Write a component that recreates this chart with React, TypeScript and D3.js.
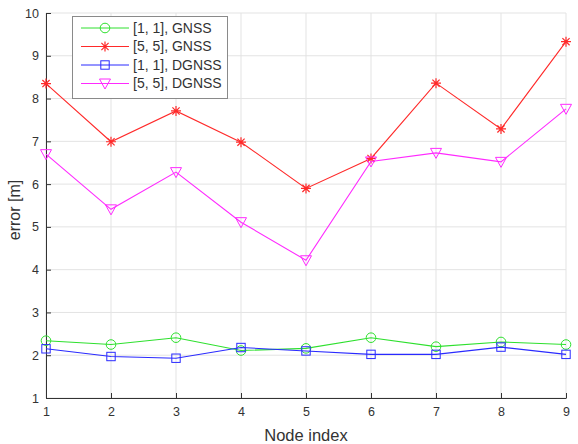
import React, { useRef, useEffect } from 'react';
import * as d3 from 'd3';

const nodes = [1, 2, 3, 4, 5, 6, 7, 8, 9];
const gnss11 = [2.34, 2.25, 2.41, 2.11, 2.16, 2.41, 2.2, 2.31, 2.25];
const gnss55 = [8.35, 6.99, 7.71, 6.98, 5.9, 6.6, 8.36, 7.29, 9.33];
const dgnss11 = [2.15, 1.97, 1.93, 2.18, 2.1, 2.02, 2.02, 2.19, 2.02];
const dgnss55 = [6.7, 5.41, 6.28, 5.11, 4.22, 6.53, 6.73, 6.52, 7.76];
const yTicks = [1, 2, 3, 4, 5, 6, 7, 8, 9, 10];

const seriesList = [
  { name: '[1, 1], GNSS', values: gnss11, color: '#2ee02e', marker: 'circle' },
  { name: '[5, 5], GNSS', values: gnss55, color: '#ff2a2a', marker: 'star' },
  { name: '[1, 1], DGNSS', values: dgnss11, color: '#2a2aff', marker: 'square' },
  { name: '[5, 5], DGNSS', values: dgnss55, color: '#ff2aff', marker: 'triangle' },
];

function drawMarker(g, kind, x, y, color) {
  if (kind === 'circle') {
    g.append('circle').attr('cx', x).attr('cy', y).attr('r', 4.8)
      .attr('fill', 'none').attr('stroke', color).attr('stroke-width', 1);
  } else if (kind === 'square') {
    g.append('rect').attr('x', x - 4.2).attr('y', y - 4.2).attr('width', 8.4).attr('height', 8.4)
      .attr('fill', 'none').attr('stroke', color).attr('stroke-width', 1);
  } else if (kind === 'triangle') {
    g.append('path').attr('d', `M${x - 5.5},${y - 4.5}L${x + 5.5},${y - 4.5}L${x},${y + 5.5}Z`)
      .attr('fill', 'none').attr('stroke', color).attr('stroke-width', 1);
  } else {
    const r = 5, d = r * 0.72;
    const p = `M${x - r},${y}L${x + r},${y}M${x},${y - r}L${x},${y + r}` +
      `M${x - d},${y - d}L${x + d},${y + d}M${x - d},${y + d}L${x + d},${y - d}`;
    g.append('path').attr('d', p).attr('stroke', color).attr('stroke-width', 1.2);
  }
}

export default function App() {
  const svgRef = useRef(null);

  useEffect(() => {
    const svg = d3.select(svgRef.current);
    svg.selectAll('*').remove();
    const left = 46, right = 566, top = 13, bottom = 398;

    const x = d3.scaleLinear().domain([1, 9]).range([left, right]);
    const y = d3.scaleLinear().domain([1, 10]).range([bottom, top]);
    const axisColor = '#333';
    const font = 'Liberation Sans, Arial, sans-serif';

    // grid
    const grid = svg.append('g').attr('stroke', '#e3e3e3').attr('stroke-width', 1);
    nodes.forEach(n => {
      grid.append('line').attr('x1', x(n)).attr('x2', x(n)).attr('y1', top).attr('y2', bottom);
    });
    yTicks.forEach(t => {
      grid.append('line').attr('x1', left).attr('x2', right).attr('y1', y(t)).attr('y2', y(t));
    });

    // axes with inward ticks
    const xAxis = svg.append('g').attr('transform', `translate(0,${bottom})`)
      .call(d3.axisBottom(x).tickValues(nodes).tickFormat(d3.format('d')).tickSizeInner(-5).tickSizeOuter(0).tickPadding(9));
    const yAxis = svg.append('g').attr('transform', `translate(${left},0)`)
      .call(d3.axisLeft(y).tickValues(yTicks).tickFormat(d3.format('d')).tickSizeInner(-5).tickSizeOuter(0).tickPadding(7));
    [xAxis, yAxis].forEach(a => {
      a.select('.domain').attr('stroke', axisColor);
      a.selectAll('.tick line').attr('stroke', axisColor);
      a.selectAll('.tick text').attr('fill', axisColor).attr('font-size', 12.5).attr('font-family', font);
    });

    // series
    const line = d3.line().x((_, i) => x(nodes[i])).y(v => y(v));
    seriesList.forEach(s => {
      svg.append('path').datum(s.values).attr('d', line)
        .attr('fill', 'none').attr('stroke', s.color).attr('stroke-width', 1.1);
      const mg = svg.append('g');
      s.values.forEach((v, i) => drawMarker(mg, s.marker, x(nodes[i]), y(v), s.color));
    });

    // axis labels
    svg.append('text').attr('x', 306).attr('y', 441).attr('text-anchor', 'middle')
      .attr('font-size', 16.5).attr('font-family', font).attr('fill', axisColor).text('Node index');
    svg.append('text').attr('transform', `translate(14,210) rotate(-90)`)
      .attr('text-anchor', 'middle').attr('dy', '0.35em')
      .attr('font-size', 16).attr('font-family', font).attr('fill', axisColor).text('error [m]');

    // legend
    const lg = svg.append('g');
    lg.append('rect').attr('x', 72.5).attr('y', 16.5).attr('width', 155).attr('height', 82)
      .attr('fill', '#fff').attr('stroke', '#8a8a8a').attr('stroke-width', 1);
    seriesList.forEach((s, i) => {
      const ly = 28 + i * 18.5;
      lg.append('line').attr('x1', 81).attr('x2', 129).attr('y1', ly).attr('y2', ly)
        .attr('stroke', s.color).attr('stroke-width', 1);
      drawMarker(lg, s.marker, 105, ly, s.color);
      lg.append('text').attr('x', 133).attr('y', ly).attr('dy', '0.35em')
        .attr('font-size', 14).attr('font-family', font).attr('fill', axisColor).text(s.name);
    });
  }, []);

  return (
    <svg ref={svgRef} width={578} height={444}
      style={{ position: 'absolute', left: 0, top: 0, background: '#fff' }} />
  );
}
